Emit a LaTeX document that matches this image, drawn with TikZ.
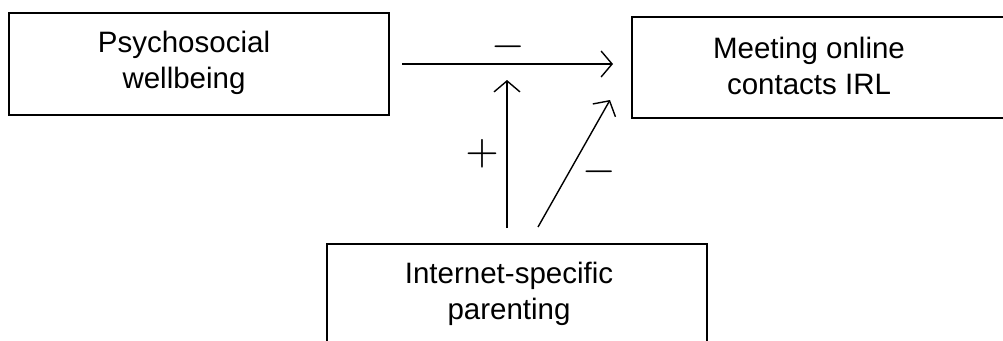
\documentclass[tikz,border=0pt]{standalone}
\usepackage{fontspec}
\setmainfont{Liberation Sans}
\usetikzlibrary{arrows.meta}
\tikzset{
  box/.style={draw, line width=1.6pt, inner sep=0pt},
  txt/.style={align=center, inner sep=0pt, font=\fontsize{29.5}{36}\selectfont},
  sign/.style={inner sep=0pt},
  link/.style={line width=1.4pt, -{Straight Barb[length=11pt,width=26pt,line width=1.4pt]}},
}
\newcommand{\effsign}[1]{\scalebox{4.3}{$#1$}}
\begin{document}
\begin{tikzpicture}[x=1pt, y=-1pt]
  \useasboundingbox (0,0) rectangle (1003,340);
  \clip (0,0) rectangle (1003,340);
  \fill[white] (0,0) rectangle (1003,340);

  % boxes
  \node[box, minimum width=380pt, minimum height=102pt] (psy) at (199,64) {};
  \node[box, minimum width=388pt, minimum height=101pt] (meet) at (826,67.5) {};
  \node[box, minimum width=380pt, minimum height=116pt] (inet) at (517,302) {};

  % box texts
  \node[txt] (psyT) at (184,63) {Psychosocial\\wellbeing};
  \node[txt] (meetT) at (809,66) {Meeting online\\contacts IRL};
  \node[txt] (inetT) at (509,294) {Internet-specific\\parenting};

  % arrow end points
  \coordinate (hA) at (402,64);
  \coordinate (hB) at (613,64);
  \coordinate (vA) at (507,228);
  \coordinate (vB) at (507,80);
  \coordinate (dA) at (538,227);
  \coordinate (dB) at (610,100);

  \draw[link] (hA) -- (hB);
  \draw[link] (vA) -- (vB);
  \draw[link] (dA) -- (dB);

  % signs of the effects
  \node[sign] (sH) at (508,47) {\effsign{-}};
  \node[sign] (sV) at (482,154) {\effsign{+}};
  \node[sign] (sD) at (599,172) {\effsign{-}};
\end{tikzpicture}
\end{document}
